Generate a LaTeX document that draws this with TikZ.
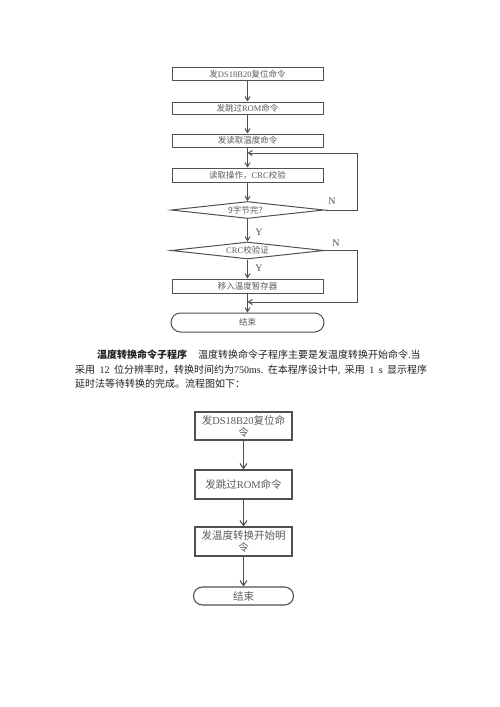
\documentclass[tikz,border=0pt]{standalone}
\usepackage{fontspec}
\setmainfont{Liberation Serif}
\newfontfamily\cjk{Noto Sans CJK SC}
\usetikzlibrary{shapes.geometric,arrows.meta}
\definecolor{lnc}{HTML}{505050}
\definecolor{txc}{HTML}{5A5A5A}
\definecolor{ptx}{HTML}{202020}
\newcommand{\lt}[1]{{\rmfamily #1}}
\tikzset{
  topbox/.style={draw=lnc, line width=1pt, minimum width=151pt, inner sep=0pt, text=txc, font=\cjk\fontsize{8.5}{9}\selectfont},
  topdia/.style={diamond, aspect=8, draw=lnc, line width=1pt, minimum width=153pt, minimum height=17pt, inner sep=0pt, text=txc, font=\cjk\fontsize{8.5}{9}\selectfont},
  arr/.style={draw=lnc, line width=1pt, -{Straight Barb[length=4pt,width=5pt]}},
  lbl/.style={text=lnc, font=\rmfamily\fontsize{10}{11}\selectfont, inner sep=0pt},
  botbox/.style={draw=lnc, line width=1.1pt, minimum width=97pt, inner sep=0pt, align=center, text=txc, font=\cjk\fontsize{10.5}{12}\selectfont},
  barr/.style={draw=lnc, line width=1.1pt, -{Straight Barb[length=5pt,width=7pt]}},
  para/.style={anchor=base west, inner sep=0pt, text=ptx, font=\cjk\fontsize{10}{12}\selectfont}
}
\begin{document}
\begin{tikzpicture}[x=1pt, y=-1pt]
\useasboundingbox (0,0) rectangle (500,707);
% ---------- top chart ----------
\node[topbox, minimum height=13pt] (b1) at (247.5,74) {发\lt{DS18B20}复位命令};
\node[topbox, minimum height=12pt] (b2) at (247.5,108) {发跳过\lt{ROM}命令};
\node[topbox, minimum height=13pt] (b3) at (247.5,140.5) {发读取温度命令};
\node[topbox, minimum height=14pt] (b4) at (247.5,175) {读取操作，\lt{CRC}校验};
\node[topdia] (d1) at (247.5,210) {9字节完？};
\node[topdia] (d2) at (247.5,250.5) {\lt{CRC}校验证};
\node[topbox, minimum height=14pt] (b5) at (247.5,286) {移入温度暂存器};
\node[topbox, minimum width=153pt, minimum height=19pt, rounded corners=9.5pt] (e1) at (247.5,322.5) {结束};
\coordinate (j1) at (247.5,153);
\coordinate (lp1) at (357,153);
\coordinate (j2) at (247.5,302);
\coordinate (lp2) at (357,302);
\draw[arr] (b1) -- (b2);
\draw[arr] (b2) -- (b3);
\draw[arr] (b3) -- (b4);
\draw[arr] (b4) -- (d1);
\draw[arr] (d1) -- (d2);
\draw[arr] (d2) -- (b5);
\draw[arr] (b5) -- (e1);
\draw[arr] (d1.east) -| (lp1) -- (j1);
\draw[arr] (d2.east) -| (lp2) -- (j2);
\node[lbl] (n1) at (332,201) {N};
\node[lbl] (n2) at (336,243) {N};
\node[lbl] (y1) at (259,232) {Y};
\node[lbl] (y2) at (259,268) {Y};
% ---------- paragraph ----------
\node[para] (p1a) at (97,358.5) {\bfseries 温度转换命令子程序};
\node[para] (p1b) at (198,358.5) {\makebox[229pt][s]{温度转换命令子程序主要是发温度转换开始命令\lt{.}当}};
\node[para] (p2) at (75,373) {\makebox[352pt][s]{采用\hfill\lt{12}\hfill 位分辨率时，转换时间约为\lt{750ms.}\hfill 在本程序设计中\lt{,}\hfill 采用\hfill\lt{1}\hfill\lt{s}\hfill 显示程序}};
\node[para] (p3) at (75,387) {延时法等待转换的完成。流程图如下：};
% ---------- bottom chart ----------
\node[botbox, minimum height=28pt] (A) at (243.5,426) {发\lt{DS18B20}复位命\\令};
\node[botbox, minimum height=29pt] (B) at (243.5,484.5) {发跳过\lt{ROM}命令};
\node[botbox, minimum height=29pt] (C) at (243.5,541.5) {发温度转换开始明\\令};
\node[botbox, minimum width=100pt, minimum height=18pt, rounded corners=9pt] (E) at (243.5,596) {结束};
\draw[barr] (A) -- (B);
\draw[barr] (B) -- (C);
\draw[barr] (C) -- (E);
\end{tikzpicture}
\end{document}
